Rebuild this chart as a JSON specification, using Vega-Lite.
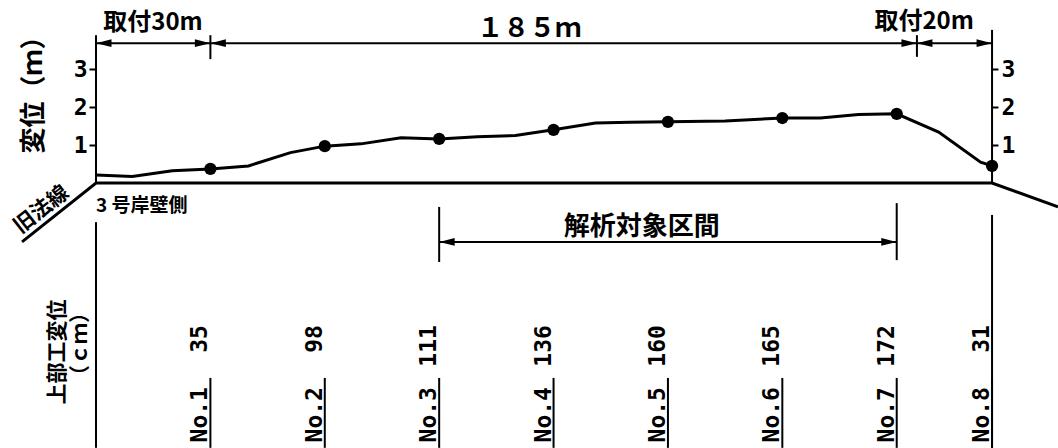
{
  "$schema": "https://vega.github.io/schema/vega-lite/v6.json",
  "width": 1058,
  "height": 448,
  "autosize": "none",
  "padding": 0,
  "background": "white",
  "config": {"view": {"stroke": null}},
  "datasets": {
    "profile": [
      {"d": 0, "disp": 0.21}, {"d": 9.5, "disp": 0.17}, {"d": 20, "disp": 0.32}, {"d": 30, "disp": 0.37},
      {"d": 40, "disp": 0.45}, {"d": 51, "disp": 0.8}, {"d": 60, "disp": 0.97}, {"d": 69.5, "disp": 1.03},
      {"d": 80, "disp": 1.19}, {"d": 90, "disp": 1.16}, {"d": 100, "disp": 1.22}, {"d": 110, "disp": 1.25},
      {"d": 120, "disp": 1.4}, {"d": 131, "disp": 1.58}, {"d": 140, "disp": 1.6}, {"d": 150, "disp": 1.61},
      {"d": 165, "disp": 1.63}, {"d": 180, "disp": 1.71}, {"d": 190, "disp": 1.71}, {"d": 200, "disp": 1.8},
      {"d": 210, "disp": 1.82}, {"d": 221, "disp": 1.34}, {"d": 232, "disp": 0.55}, {"d": 235, "disp": 0.45}
    ],
    "stations": [
      {"no": "No.1", "d": 30, "cm": 35, "disp": 0.37},
      {"no": "No.2", "d": 60, "cm": 98, "disp": 0.97},
      {"no": "No.3", "d": 90, "cm": 111, "disp": 1.16},
      {"no": "No.4", "d": 120, "cm": 136, "disp": 1.4},
      {"no": "No.5", "d": 150, "cm": 160, "disp": 1.61},
      {"no": "No.6", "d": 180, "cm": 165, "disp": 1.71},
      {"no": "No.7", "d": 210, "cm": 172, "disp": 1.82},
      {"no": "No.8", "d": 235, "cm": 31, "disp": 0.45}
    ],
    "outline": [
      {"d": -19.4, "v": -1.55}, {"d": 0, "v": 0}, {"d": 235, "v": 0}, {"d": 252.3, "v": -0.63}
    ],
    "segments": [
      {"d": 0, "d2": 0, "v": 3.89, "v2": 0},
      {"d": 30, "d2": 30, "v": 3.89, "v2": 3.26},
      {"d": 215.3, "d2": 215.3, "v": 3.89, "v2": 3.32},
      {"d": 235, "d2": 235, "v": 4.03, "v2": 0},
      {"d": 0, "d2": 235, "v": 3.68, "v2": 3.68},
      {"d": 0, "d2": 0, "v": -1.03, "v2": -6.97},
      {"d": 235, "d2": 235, "v": -0.84, "v2": -6.97},
      {"d": 90, "d2": 90, "v": -0.63, "v2": -2.08},
      {"d": 210, "d2": 210, "v": -0.53, "v2": -2.03},
      {"d": 90, "d2": 210, "v": -1.55, "v2": -1.55}
    ],
    "arrows": [
      {"d": 0, "v": 3.68, "dir": "L"}, {"d": 30, "v": 3.68, "dir": "R"},
      {"d": 30, "v": 3.68, "dir": "L"}, {"d": 215.3, "v": 3.68, "dir": "R"},
      {"d": 215.3, "v": 3.68, "dir": "L"}, {"d": 235, "v": 3.68, "dir": "R"},
      {"d": 90, "v": -1.55, "dir": "L"}, {"d": 210, "v": -1.55, "dir": "R"}
    ]
  },
  "layer": [
    {
      "data": {"name": "outline"},
      "mark": {"type": "line", "color": "black", "strokeWidth": 3},
      "encoding": {
        "x": {"field": "d", "type": "quantitative", "scale": {"domain": [-25.18, 252.3], "nice": false, "zero": false}, "axis": null},
        "y": {"field": "v", "type": "quantitative", "scale": {"domain": [-6.974, 4.816], "nice": false, "zero": false}, "axis": null}
      }
    },
    {
      "data": {"name": "segments"},
      "mark": {"type": "rule", "color": "black", "strokeWidth": 2},
      "encoding": {
        "x": {"field": "d", "type": "quantitative", "axis": null},
        "x2": {"field": "d2"},
        "y": {"field": "v", "type": "quantitative", "axis": null},
        "y2": {"field": "v2"}
      }
    },
    {
      "data": {"name": "arrows"},
      "mark": {"type": "point", "filled": true, "color": "black", "opacity": 1, "size": 240, "strokeWidth": 0},
      "encoding": {
        "x": {"field": "d", "type": "quantitative", "axis": null},
        "y": {"field": "v", "type": "quantitative", "axis": null},
        "shape": {"field": "dir", "type": "nominal", "legend": null,
          "scale": {"domain": ["L", "R"], "range": ["M0,0L2,-0.5L2,0.5Z", "M0,0L-2,-0.5L-2,0.5Z"]}}
      }
    },
    {
      "data": {"name": "profile"},
      "mark": {"type": "line", "color": "black", "strokeWidth": 3},
      "encoding": {
        "x": {"field": "d", "type": "quantitative", "axis": null},
        "y": {"field": "disp", "type": "quantitative",
          "axis": {"orient": "left", "offset": -96, "values": [1, 2, 3], "domain": false, "grid": false,
            "tickSize": 7, "tickWidth": 2, "tickColor": "black",
            "labelFont": "DejaVu Sans Mono", "labelFontSize": 23, "labelFontWeight": "bold", "labelColor": "black", "labelPadding": 2,
            "title": "変位（ｍ）", "titleFont": "Noto Sans CJK JP", "titleFontSize": 26, "titleFontWeight": "bold",
            "titleColor": "black", "titleX": -63, "titleY": 88, "titleAngle": 270, "titleAlign": "center", "titleBaseline": "middle"}}
      }
    },
    {
      "data": {"name": "stations"},
      "mark": {"type": "point", "filled": true, "color": "black", "opacity": 1, "size": 150},
      "encoding": {
        "x": {"field": "d", "type": "quantitative", "axis": null},
        "y": {"field": "disp", "type": "quantitative",
          "axis": {"orient": "right", "offset": -66, "values": [1, 2, 3], "domain": false, "grid": false,
            "tickSize": 6, "tickWidth": 2, "tickColor": "black",
            "labelFont": "DejaVu Sans Mono", "labelFontSize": 23, "labelFontWeight": "bold", "labelColor": "black", "labelPadding": 3,
            "title": null}}
      }
    },
    {
      "data": {"name": "stations"},
      "mark": {"type": "rule", "color": "black", "strokeWidth": 2},
      "encoding": {
        "x": {"field": "d", "type": "quantitative", "axis": null},
        "y": {"datum": -5.13, "type": "quantitative", "axis": null},
        "y2": {"datum": -6.97}
      }
    },
    {
      "data": {"name": "stations"},
      "mark": {"type": "text", "angle": 270, "align": "right", "baseline": "alphabetic", "dy": -3,
        "font": "DejaVu Sans Mono", "fontSize": 23, "fontWeight": "bold", "color": "black"},
      "encoding": {
        "x": {"field": "d", "type": "quantitative", "axis": null},
        "y": {"datum": -3.74, "type": "quantitative", "axis": null},
        "text": {"field": "cm", "type": "quantitative"}
      }
    },
    {
      "data": {"name": "stations"},
      "mark": {"type": "text", "angle": 270, "align": "right", "baseline": "alphabetic", "dy": -3,
        "font": "DejaVu Sans Mono", "fontSize": 23, "fontWeight": "bold", "color": "black"},
      "encoding": {
        "x": {"field": "d", "type": "quantitative", "axis": null},
        "y": {"datum": -5.37, "type": "quantitative", "axis": null},
        "text": {"field": "no", "type": "nominal"}
      }
    },
    {
      "data": {"values": [{"d": 14.95, "v": 4.21, "t": "取付30m"}, {"d": 217.2, "v": 4.24, "t": "取付20m"}]},
      "mark": {"type": "text", "font": "Noto Sans CJK JP", "fontSize": 24, "fontWeight": "bold", "color": "black", "align": "center", "baseline": "middle"},
      "encoding": {
        "x": {"field": "d", "type": "quantitative", "axis": null},
        "y": {"field": "v", "type": "quantitative", "axis": null},
        "text": {"field": "t", "type": "nominal"}
      }
    },
    {
      "data": {"values": [{"d": 113.6, "v": 4.05, "t": "１８５ｍ"}, {"d": 143.1, "v": -1.145, "t": "解析対象区間"}]},
      "mark": {"type": "text", "font": "Noto Sans CJK JP", "fontSize": 26, "fontWeight": "bold", "color": "black", "align": "center", "baseline": "middle"},
      "encoding": {
        "x": {"field": "d", "type": "quantitative", "axis": null},
        "y": {"field": "v", "type": "quantitative", "axis": null},
        "text": {"field": "t", "type": "nominal"}
      }
    },
    {
      "data": {"values": [{"d": 0, "v": -0.61, "t": "3 号岸壁側"}]},
      "mark": {"type": "text", "font": "Noto Sans CJK JP", "fontSize": 19, "fontWeight": 700, "color": "black", "align": "left", "baseline": "middle"},
      "encoding": {
        "x": {"field": "d", "type": "quantitative", "axis": null},
        "y": {"field": "v", "type": "quantitative", "axis": null},
        "text": {"field": "t", "type": "nominal"}
      }
    },
    {
      "data": {"values": [{"d": -14.2, "v": -0.71, "t": "旧法線"}]},
      "mark": {"type": "text", "font": "Noto Sans CJK JP", "fontSize": 21, "fontWeight": "bold", "angle": 322, "color": "black", "align": "center", "baseline": "middle"},
      "encoding": {
        "x": {"field": "d", "type": "quantitative", "axis": null},
        "y": {"field": "v", "type": "quantitative", "axis": null},
        "text": {"field": "t", "type": "nominal"}
      }
    },
    {
      "data": {"values": [{"d": -9.97, "v": -4.45, "t": "上部工変位"}]},
      "mark": {"type": "text", "font": "Noto Sans CJK JP", "fontSize": 21, "fontWeight": "bold", "angle": 270, "color": "black", "align": "center", "baseline": "middle"},
      "encoding": {
        "x": {"field": "d", "type": "quantitative", "axis": null},
        "y": {"field": "v", "type": "quantitative", "axis": null},
        "text": {"field": "t", "type": "nominal"}
      }
    },
    {
      "data": {"values": [{"d": -4.0, "v": -4.24, "t": "（ｃｍ）"}]},
      "mark": {"type": "text", "font": "Noto Sans CJK JP", "fontSize": 21, "fontWeight": "bold", "angle": 270, "color": "black", "align": "center", "baseline": "middle"},
      "encoding": {
        "x": {"field": "d", "type": "quantitative", "axis": null},
        "y": {"field": "v", "type": "quantitative", "axis": null},
        "text": {"field": "t", "type": "nominal"}
      }
    }
  ],
  "resolve": {"axis": {"y": "independent"}}
}
